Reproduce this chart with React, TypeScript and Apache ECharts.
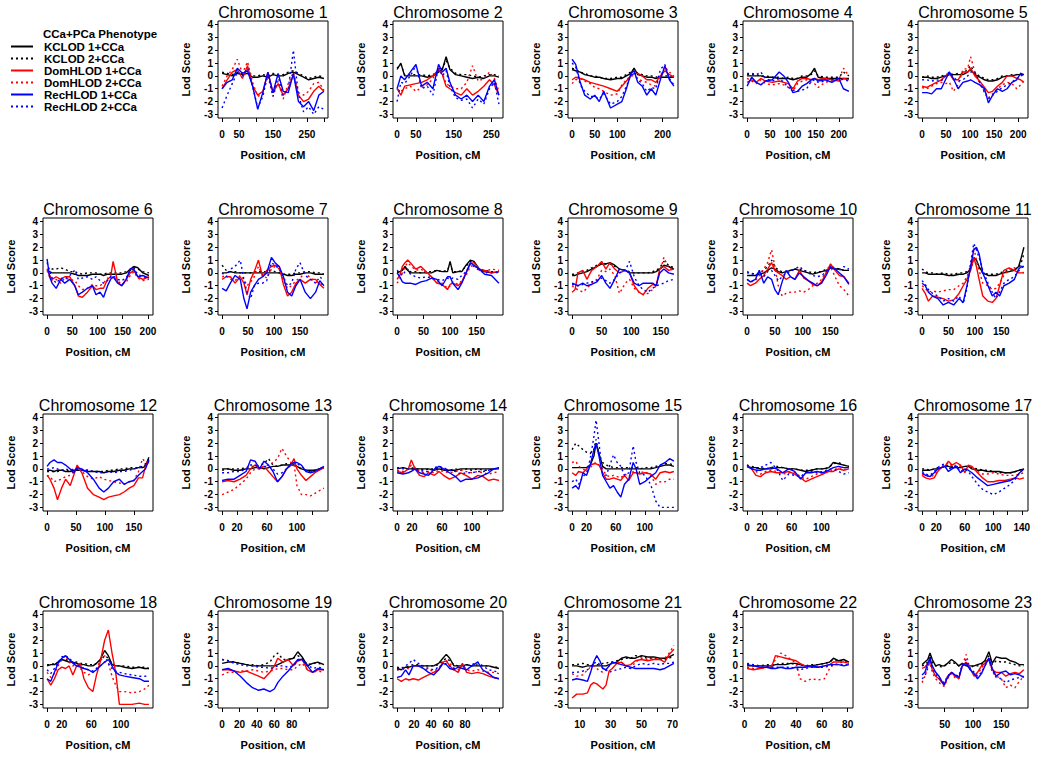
import React, { useEffect, useRef } from "react";
import * as echarts from "echarts";

const FONT = '"Liberation Sans", Arial, Helvetica, sans-serif';

const seriesNames = ["KCLOD 1+CCa", "KCLOD 2+CCa", "DomHLOD 1+CCa", "DomHLOD 2+CCa", "RecHLOD 1+CCa", "RecHLOD 2+CCa"];
const seriesKeys = ["kc1", "kc2", "dom1", "dom2", "rec1", "rec2"];
const seriesColors = ["#000000", "#000000", "#ff0000", "#ff0000", "#0000ff", "#0000ff"];
const seriesDotted = [false, true, false, true, false, true];
const yTicks = [-3, -2, -1, 0, 1, 2, 3, 4];
const legendTitle = "CCa+PCa Phenotype";
const xAxisName = "Position, cM";
const yAxisName = "Lod Score";

const chr1 = {
  name: "Chromosome 1",
  ticks: [0, 50, 100, 150, 200, 250, 300], labels: [0, 50, 150, 250],
  pos: [0, 15, 30, 45, 60, 75, 90, 105, 120, 135, 150, 165, 180, 195, 210, 225, 240, 255, 270, 285, 300],
  kc1: [0.2, 0.1, 0.0, 0.2, 0.1, 0.2, -0.1, -0.1, 0.0, -0.1, 0.1, 0.0, 0.0, 0.2, 0.3, 0.1, -0.1, -0.3, -0.2, -0.1, -0.2],
  kc2: [0.3, 0.2, 0.1, 0.3, 0.2, 0.4, 0.0, 0.0, 0.1, 0.0, 0.2, 0.1, 0.1, 0.3, 0.4, 0.2, 0.0, -0.2, -0.1, 0.0, -0.1],
  dom1: [-1.0, -0.3, 0.3, 0.5, -0.2, 0.8, -0.8, -1.5, -1.2, 0.3, -1.3, -0.6, -1.5, -1.0, 0.1, -1.5, -2.0, -1.8, -1.2, -0.8, -1.2],
  dom2: [-0.8, 0.0, 0.5, 1.3, 0.2, 1.1, -0.5, -1.6, -1.4, 0.0, -1.6, -0.4, -1.8, -0.6, 0.3, -1.3, -1.5, -1.2, -0.6, -0.5, -1.1],
  rec1: [-1.0, -0.5, -0.3, 0.6, 0.2, 0.4, -0.8, -2.6, -1.3, 0.3, -1.3, 0.2, -1.2, -1.3, 0.2, -2.0, -2.4, -2.0, -2.7, -1.5, -1.2],
  rec2: [-2.5, -1.5, -0.6, 0.3, 0.0, 0.6, -0.8, -2.5, -1.6, 0.2, -1.6, 0.0, -1.5, -1.0, 2.0, -1.5, -2.8, -2.4, -3.0, -2.4, -2.6],
};
const chr2 = {
  name: "Chromosome 2",
  ticks: [0, 50, 100, 150, 200, 250], labels: [0, 50, 150, 250],
  pos: [0, 10, 20, 35, 50, 65, 80, 95, 110, 120, 130, 140, 155, 170, 185, 200, 215, 230, 245, 258, 270],
  kc1: [0.5, 1.0, 0.0, 0.0, 0.0, 0.0, -0.1, 0.0, 0.3, 0.5, 1.5, 0.5, 0.1, 0.0, -0.1, -0.2, -0.1, -0.2, 0.0, 0.0, -0.1],
  kc2: [0.6, 0.9, 0.1, 0.1, 0.1, 0.1, 0.0, 0.1, 0.4, 0.6, 1.2, 0.6, 0.2, 0.1, 0.1, 0.0, -0.1, 0.0, 0.1, 0.1, 0.0],
  dom1: [-1.0, -1.5, -0.8, -0.7, -0.6, -0.5, -0.3, 0.0, 0.5, 0.1, -0.8, -1.0, -1.3, -1.5, -1.0, -1.5, -1.2, -0.8, -0.3, -0.7, -1.5],
  dom2: [-1.0, -1.2, -1.0, -0.8, -1.2, -0.9, -0.7, -0.2, 0.6, 0.2, -0.6, -0.8, -1.0, -1.0, -0.5, 0.8, -0.4, -0.2, 0.3, -0.2, -1.2],
  rec1: [-1.0, 0.0, -0.3, 0.3, 0.9, -0.8, -0.5, -1.0, 0.9, 0.3, 0.6, -0.5, -1.5, -1.8, -1.5, -2.0, -1.5, -2.0, -0.8, -0.3, -1.5],
  rec2: [-2.0, -0.5, -0.6, 0.0, 0.8, -1.0, -0.8, -1.5, 0.7, 0.0, 0.4, -0.8, -1.7, -1.9, -1.8, -2.5, -1.8, -2.2, -1.0, -0.5, -2.2],
};
const chr3 = {
  name: "Chromosome 3",
  ticks: [0, 50, 100, 150, 200], labels: [0, 50, 100, 200],
  pos: [0, 8, 18, 28, 40, 50, 60, 70, 85, 100, 110, 120, 130, 137, 145, 155, 165, 175, 185, 195, 205, 215, 225],
  kc1: [0.5, 0.4, 0.3, 0.1, 0.0, -0.1, -0.1, -0.2, -0.3, -0.2, -0.2, 0.0, 0.2, 0.6, 0.1, 0.0, -0.1, -0.1, -0.2, -0.1, -0.1, -0.1, -0.1],
  kc2: [0.6, 0.5, 0.3, 0.2, 0.0, 0.0, -0.1, -0.2, -0.2, -0.1, -0.1, 0.1, 0.3, 0.5, 0.2, 0.1, 0.0, 0.0, -0.1, 0.0, 0.0, 0.0, 0.0],
  dom1: [-0.3, -0.1, -0.2, -0.3, -0.5, -0.6, -0.7, -0.8, -1.0, -1.2, -0.8, -0.4, 0.0, 0.2, 0.2, 0.0, -0.3, -0.3, -0.5, 0.0, 0.4, 0.1, -0.1],
  dom2: [-0.6, -0.3, -0.2, -0.4, -0.6, -0.9, -1.0, -1.2, -1.5, -1.4, -0.7, -0.3, 0.0, 0.0, -0.2, -0.4, -0.5, -0.7, -0.8, 0.0, 0.7, 0.3, 0.0],
  rec1: [1.3, 0.9, -0.5, -1.5, -1.8, -1.5, -2.0, -1.2, -2.5, -2.2, -2.0, -1.0, 0.2, 0.4, -0.5, -0.8, -1.5, -1.0, -1.5, -0.3, 0.8, -0.3, -0.8],
  rec2: [1.0, 0.7, -0.7, -1.2, -1.6, -1.6, -1.8, -1.4, -2.2, -2.0, -1.6, -0.8, 0.0, 0.3, -0.3, -0.6, -1.2, -0.9, -1.0, 0.5, 0.9, -0.2, -0.7],
};
const chr4 = {
  name: "Chromosome 4",
  ticks: [0, 50, 100, 150, 200], labels: [0, 50, 100, 150, 200],
  pos: [0, 10, 20, 30, 40, 55, 70, 80, 90, 100, 110, 120, 130, 140, 147, 155, 170, 185, 200, 210, 222],
  kc1: [0.0, 0.0, 0.0, 0.0, -0.1, -0.1, -0.2, -0.2, -0.2, -0.3, -0.2, -0.1, -0.1, 0.2, 0.6, -0.1, -0.2, -0.2, -0.2, -0.2, -0.2],
  kc2: [0.1, 0.1, 0.1, 0.0, 0.0, -0.1, -0.1, -0.2, -0.1, -0.2, -0.2, 0.0, 0.0, 0.1, 0.4, 0.0, -0.1, -0.1, -0.1, 0.3, 0.0],
  dom1: [-0.5, -0.3, -0.5, -0.2, -0.4, -0.5, -0.4, -0.5, -0.6, -1.0, -0.4, -0.2, -0.2, -0.3, -0.2, -0.3, -0.2, -0.3, -0.4, -0.2, -0.3],
  dom2: [-0.2, -0.4, -0.6, -0.3, -0.6, -0.7, -0.6, -0.7, -0.9, -1.2, -0.6, -0.4, -0.3, -0.5, -0.6, -0.9, -0.5, -0.4, -0.3, 0.6, 0.0],
  rec1: [-0.8, -0.1, -0.5, -0.7, -0.4, -0.3, 0.3, 0.0, -0.5, -1.3, -1.2, -0.8, -0.6, -0.3, -0.2, -0.4, -0.3, -0.5, -0.2, -1.0, -1.2],
  rec2: [0.2, 0.2, 0.1, 0.3, -0.2, -0.4, -0.2, -0.5, -0.9, -1.1, -1.2, -1.1, -1.0, -0.4, -0.3, -0.5, -0.4, -0.3, -0.2, -0.3, -0.4],
};
const chr5 = {
  name: "Chromosome 5",
  ticks: [0, 50, 100, 150, 200], labels: [0, 50, 100, 150, 200],
  pos: [0, 10, 20, 30, 40, 50, 57, 65, 75, 85, 95, 101, 110, 120, 130, 138, 147, 157, 167, 177, 187, 197, 205, 212],
  kc1: [-0.1, -0.1, -0.2, -0.2, -0.1, 0.0, 0.1, 0.1, 0.1, 0.1, 0.3, 0.5, 0.1, -0.1, -0.3, -0.4, -0.4, -0.3, -0.1, 0.0, 0.0, 0.1, 0.1, 0.1],
  kc2: [-0.1, 0.0, -0.1, -0.1, 0.0, 0.1, 0.2, 0.1, 0.2, 0.2, 0.5, 0.8, 0.2, 0.0, -0.2, -0.3, -0.3, -0.2, 0.0, 0.0, 0.1, 0.1, 0.2, 0.1],
  dom1: [-0.8, -0.9, -0.7, -0.5, -0.3, 0.0, 0.2, -0.3, -0.3, 0.3, 0.3, 0.6, 0.0, -0.4, -0.9, -1.3, -1.2, -0.8, -0.5, 0.0, 0.0, -0.2, -0.3, -0.5],
  dom2: [-0.9, -1.0, -0.8, -0.6, -0.5, -0.6, -0.5, -1.2, -0.7, 0.5, 0.6, 1.5, 0.3, -0.6, -1.2, -1.7, -1.4, -1.0, -0.7, -0.5, -0.6, -1.0, -0.7, -0.3],
  rec1: [-1.3, -1.3, -1.4, -1.0, -1.0, -0.2, 0.3, -0.2, -1.0, -0.5, -0.4, -0.3, -0.5, -0.7, -1.0, -2.1, -1.5, -1.0, -1.2, -1.0, -0.5, -0.3, 0.2, 0.1],
  rec2: [-0.3, -0.3, -0.4, -0.3, -0.4, 0.1, 0.3, -0.1, -0.4, -0.3, 0.0, 0.3, 0.3, -0.5, -1.3, -1.8, -1.5, -1.2, -0.9, -0.7, -0.5, -0.2, 0.0, 0.1],
};
const chr6 = {
  name: "Chromosome 6",
  ticks: [0, 50, 100, 150, 200], labels: [0, 50, 100, 150, 200],
  pos: [0, 5, 10, 18, 27, 35, 45, 55, 62, 70, 80, 90, 97, 105, 112, 120, 126, 131, 140, 148, 157, 165, 172, 180, 190, 202],
  kc1: [0.1, 0.1, 0.0, 0.0, 0.0, 0.0, 0.0, -0.1, -0.2, -0.2, -0.2, -0.1, -0.1, -0.1, -0.2, -0.1, -0.1, -0.1, -0.1, -0.1, 0.0, 0.3, 0.5, 0.4, 0.0, -0.2],
  kc2: [0.3, 0.2, 0.3, 0.3, 0.4, 0.3, 0.1, 0.1, 0.0, -0.1, 0.0, 0.0, 0.0, -0.1, -0.1, 0.0, 0.0, 0.0, 0.0, 0.0, 0.1, 0.2, 0.4, 0.3, 0.1, 0.0],
  dom1: [0.3, -0.2, -0.5, -0.3, -0.5, -0.3, -0.3, -1.0, -1.8, -1.9, -1.5, -1.0, -1.3, -1.2, -1.2, -0.5, -0.3, 0.9, -0.7, -1.0, -0.5, 0.0, 0.2, -0.3, -0.5, -0.3],
  dom2: [0.2, -0.3, -0.6, -0.5, -0.8, -0.4, -0.5, -0.6, -1.0, -1.3, -1.2, -0.9, -1.0, -1.0, -0.8, -0.4, -0.5, -0.3, -0.6, -0.9, -0.7, -0.2, 0.1, -0.4, -0.6, -0.5],
  rec1: [1.1, -0.3, -0.8, -1.2, -0.5, -0.8, -0.5, -1.0, -1.7, -1.5, -1.2, -1.0, -1.7, -1.5, -1.9, -1.0, -0.5, -0.3, -0.8, -1.0, -0.5, 0.3, 0.3, -0.3, -0.2, -0.4],
  rec2: [0.8, 0.2, -0.4, -0.8, -0.4, -0.5, -0.2, 0.2, -0.5, -0.4, -0.3, -0.5, -0.3, -0.6, -0.8, -0.6, -0.3, -0.2, -0.5, -0.6, -0.4, 0.2, 0.3, -0.1, -0.3, -0.4],
};
const chr7 = {
  name: "Chromosome 7",
  ticks: [0, 50, 100, 150], labels: [0, 50, 100, 150],
  pos: [0, 8, 16, 25, 35, 42, 48, 55, 62, 70, 78, 86, 95, 102, 110, 118, 126, 134, 142, 150, 160, 170, 180, 188, 196],
  kc1: [0.0, 0.0, 0.1, 0.0, 0.0, 0.0, 0.0, 0.0, 0.0, 0.0, 0.0, 0.0, 0.0, 0.0, 0.0, -0.1, -0.2, -0.2, -0.1, -0.1, 0.0, 0.0, -0.1, -0.1, -0.1],
  kc2: [0.6, 0.2, 0.1, 0.1, 0.0, 0.0, 0.0, 0.0, 0.1, 0.1, 0.1, 0.1, 0.2, 0.1, 0.0, -0.1, -0.1, -0.1, 0.0, 0.0, 0.1, 0.1, 0.0, 0.0, -0.1],
  dom1: [-0.5, -0.3, -0.3, -0.8, -0.3, -0.8, -1.7, -0.5, 0.1, 1.0, -0.3, 0.2, 0.5, 0.6, 0.5, -0.9, -1.8, -1.5, -0.8, -0.5, -0.8, -0.5, -0.5, -0.9, -1.2],
  dom2: [-0.3, -0.2, -0.5, -0.6, -0.2, -0.5, -1.0, -0.7, -0.3, 0.5, -0.2, -0.4, 0.3, 0.5, 0.3, -0.6, -1.2, -1.0, -0.6, -0.4, 0.0, -0.4, -0.7, -0.8, -1.0],
  rec1: [-1.2, -1.4, -0.8, -0.2, -0.5, -2.0, -2.8, -1.5, -1.0, -0.5, -0.3, 0.0, 1.2, 0.8, 0.5, -0.3, -1.5, -1.8, -1.0, -0.5, -1.5, -2.0, -1.5, -0.6, -1.0],
  rec2: [0.0, -0.3, 0.3, 0.5, 1.0, -0.5, -1.5, -2.0, -1.0, -0.8, -0.8, -0.6, 0.8, 0.6, 0.3, -0.3, -1.0, -0.8, 0.3, 0.8, -0.2, -0.5, -0.8, -0.3, -0.6],
};
const chr8 = {
  name: "Chromosome 8",
  ticks: [0, 50, 100, 150], labels: [0, 50, 100, 150],
  pos: [0, 5, 10, 15, 20, 25, 35, 45, 55, 65, 75, 85, 95, 100, 105, 115, 122, 130, 138, 145, 155, 165, 178, 192],
  kc1: [0.0, 0.1, 0.2, 0.5, 0.2, 0.0, 0.0, 0.0, 0.0, 0.0, 0.2, 0.1, 0.1, 0.9, 0.0, 0.1, 0.1, 0.6, 1.0, 0.9, 0.3, 0.1, 0.0, 0.1],
  kc2: [0.1, 0.1, 0.3, 0.4, 0.2, 0.1, 0.1, 0.0, 0.1, 0.1, 0.2, 0.1, 0.2, 0.7, 0.1, 0.1, 0.2, 0.5, 0.9, 0.8, 0.3, 0.2, 0.1, 0.1],
  dom1: [-0.5, -0.2, 0.5, 0.8, 1.0, 0.8, 0.3, 0.5, 0.1, -0.3, -0.8, -0.9, -1.3, -0.9, -0.8, -1.0, -0.7, 0.0, 0.7, 0.8, 0.3, 0.2, 0.0, 0.1],
  dom2: [-0.8, -0.5, 0.0, 0.5, 0.8, 0.6, 0.2, 0.3, 0.0, -0.4, -0.7, -0.8, -1.2, -1.0, -0.7, -0.9, -0.6, -0.2, 0.5, 0.6, 0.2, 0.1, 0.3, 0.2],
  rec1: [0.0, -0.3, -0.7, -0.8, -0.8, -0.8, -0.9, -0.7, -0.6, -0.4, -0.5, -1.0, -0.3, -0.3, -0.8, -1.3, -0.8, 0.0, 0.8, 0.6, 0.3, -0.1, -0.2, -0.8],
  rec2: [0.2, 0.0, -0.2, 0.1, 0.3, -0.1, -0.3, -0.4, -0.3, -0.4, -0.5, -0.6, -0.4, -0.5, -0.4, -0.5, -0.2, 0.1, 0.7, 0.5, 0.2, 0.0, 0.1, 0.0],
};
const chr9 = {
  name: "Chromosome 9",
  ticks: [0, 50, 100, 150], labels: [0, 50, 100, 150],
  pos: [0, 5, 10, 18, 25, 33, 42, 50, 57, 64, 72, 80, 90, 97, 105, 113, 120, 128, 136, 142, 148, 155, 163, 172],
  kc1: [-0.2, -0.2, -0.1, 0.0, 0.1, 0.3, 0.5, 0.7, 0.7, 0.8, 0.6, 0.3, 0.2, 0.0, 0.0, 0.0, 0.0, 0.0, 0.0, 0.1, 0.3, 0.6, 0.5, 0.3],
  kc2: [-0.1, -0.1, 0.0, 0.1, 0.2, 0.4, 0.6, 0.8, 0.7, 0.7, 0.5, 0.3, 0.2, 0.1, 0.0, 0.0, 0.0, 0.0, 0.1, 0.2, 0.4, 0.9, 0.6, 0.4],
  dom1: [-1.5, -1.3, 0.0, 0.2, -0.5, 0.2, 0.5, 0.9, 0.3, 0.8, 0.3, 0.0, 0.2, 0.0, -1.0, -1.5, -1.7, -1.2, -0.9, -1.0, 0.3, 0.5, 0.2, 0.3],
  dom2: [-1.0, -1.2, -1.3, -1.5, -1.2, -0.8, -0.5, 0.2, 0.1, 0.3, -0.2, -1.6, -0.8, -0.5, -1.2, -1.5, -1.7, -1.6, -1.3, -1.0, 0.0, 1.2, 0.4, 0.2],
  rec1: [-0.8, -0.9, -1.0, -0.8, -1.0, -0.9, -0.7, -0.2, -0.8, -1.2, -0.5, 0.3, 0.2, 0.0, -0.8, -1.0, -0.8, -0.8, -0.8, -1.0, 0.0, 0.3, 0.0, -0.1],
  rec2: [-0.9, -0.9, -1.0, -0.9, -0.8, -0.7, -0.6, -0.4, -0.6, -0.8, -0.5, 0.0, 0.2, 0.9, -0.3, -1.0, -1.3, -1.5, -1.2, -1.0, -0.9, -0.8, -0.6, -0.5],
};
const chr10 = {
  name: "Chromosome 10",
  ticks: [0, 50, 100, 150], labels: [0, 50, 100, 150],
  pos: [0, 6, 15, 22, 30, 37, 44, 50, 56, 63, 70, 78, 86, 94, 102, 110, 118, 126, 134, 142, 150, 158, 166, 174, 183],
  kc1: [-0.2, -0.2, -0.2, -0.1, 0.0, 0.2, 0.4, 0.3, 0.1, 0.0, 0.1, 0.2, 0.3, 0.2, 0.1, 0.0, -0.1, 0.0, 0.1, 0.2, 0.4, 0.3, 0.3, 0.2, 0.2],
  kc2: [0.0, 0.0, -0.1, 0.0, 0.2, 0.5, 1.0, 0.5, 0.2, 0.1, 0.1, 0.2, 0.3, 0.3, 0.2, 0.1, 0.0, 0.1, 0.1, 0.3, 0.5, 0.4, 0.3, 0.2, 0.2],
  dom1: [-0.8, -1.0, -0.8, -0.5, -0.2, 0.3, 0.8, 0.2, 0.0, -0.2, -0.5, -0.3, -0.5, 0.2, -0.4, -0.6, -0.9, -1.0, -0.7, 0.0, 0.7, 0.2, -0.2, -0.3, -0.8],
  dom2: [-0.5, -0.7, -0.6, -0.2, 0.3, 0.8, 1.8, 0.5, -1.0, -1.8, -1.6, -1.5, -1.5, -1.4, -1.5, -1.3, -1.0, -0.8, -0.5, 0.2, 0.5, -0.3, -1.0, -1.3, -1.8],
  rec1: [-0.5, -0.7, -0.5, 0.2, -0.8, -0.3, -0.5, -1.3, -1.7, -0.7, 0.2, -0.3, -0.5, 0.0, -0.3, -0.6, -0.8, -1.0, -0.8, -0.2, 0.5, 0.3, 0.0, -0.3, -0.9],
  rec2: [0.1, 0.0, -0.2, 0.0, -0.3, 0.1, 0.2, -0.2, -0.6, -0.3, 0.0, 0.1, 0.3, 0.5, 0.2, 0.0, -0.2, -0.3, -0.2, 0.1, 0.4, 0.3, 0.2, 0.5, 0.3],
};
const chr11 = {
  name: "Chromosome 11",
  ticks: [0, 50, 100, 150], labels: [0, 50, 100, 150],
  pos: [0, 6, 12, 20, 30, 40, 50, 60, 70, 78, 85, 92, 98, 103, 108, 115, 125, 133, 140, 147, 155, 165, 175, 183, 188, 193],
  kc1: [0.0, 0.0, -0.1, -0.1, -0.1, -0.1, -0.2, -0.2, -0.1, -0.1, 0.0, 0.3, 1.2, 1.0, 0.5, 0.0, -0.2, -0.2, -0.2, -0.1, 0.0, 0.1, 0.2, 0.5, 1.2, 2.0],
  kc2: [0.3, 0.1, 0.0, 0.0, -0.1, 0.0, -0.1, -0.1, 0.0, 0.0, 0.1, 0.4, 1.0, 0.9, 0.4, 0.0, -0.1, -0.1, -0.1, 0.0, 0.1, 0.2, 0.3, 0.4, 0.8, 1.5],
  dom1: [-1.2, -1.6, -2.2, -1.8, -1.9, -2.0, -2.2, -2.1, -1.6, -1.0, -0.5, 0.2, 1.2, 0.5, -0.5, -1.8, -2.2, -2.3, -2.0, -1.0, 0.2, 0.4, 0.2, 0.0, 0.0, 0.0],
  dom2: [-1.0, -1.2, -1.5, -1.4, -1.5, -1.4, -1.3, -1.3, -1.0, -0.8, -0.3, 0.5, 2.0, 1.0, 0.2, -0.8, -1.0, -1.3, -1.2, -0.8, -0.2, 0.3, 0.4, 0.2, 0.1, 0.0],
  rec1: [-0.8, -1.0, -1.5, -1.8, -2.0, -2.5, -2.3, -2.5, -2.0, -2.3, -1.0, 0.5, 1.8, 2.0, 1.5, 0.0, -1.0, -1.8, -1.5, -1.8, -1.0, -0.8, -0.5, 0.3, 0.5, 0.5],
  rec2: [-0.6, -0.9, -1.3, -1.6, -1.8, -2.2, -2.0, -2.2, -1.8, -2.4, -1.2, 0.8, 2.3, 1.8, 1.2, 0.2, -0.8, -1.5, -2.0, -1.5, -0.8, -0.5, -0.3, 0.2, 0.4, 0.5],
};
const chr12 = {
  name: "Chromosome 12",
  ticks: [0, 50, 100, 150], labels: [0, 50, 100, 150],
  pos: [0, 5, 12, 18, 25, 32, 40, 46, 52, 60, 70, 80, 90, 98, 106, 115, 125, 133, 142, 150, 158, 165, 170, 176],
  kc1: [-0.1, -0.1, -0.2, -0.1, -0.1, -0.2, -0.2, -0.1, -0.1, -0.1, -0.2, -0.2, -0.2, -0.3, -0.2, -0.2, -0.1, -0.1, 0.0, 0.0, 0.1, 0.1, 0.2, 0.9],
  kc2: [-0.2, -0.2, -0.2, -0.2, -0.1, -0.1, -0.2, -0.1, 0.0, -0.1, -0.1, -0.2, -0.2, -0.2, -0.1, -0.1, 0.0, 0.0, 0.1, 0.1, 0.1, 0.2, 0.4, 0.8],
  dom1: [-0.5, -0.8, -1.5, -2.4, -1.5, -0.8, -1.3, -0.5, 0.3, -0.3, -1.5, -2.0, -2.2, -2.4, -2.2, -2.1, -2.0, -1.8, -1.5, -1.3, -0.7, -0.7, 0.2, 0.6],
  dom2: [-0.5, -0.6, -1.0, -0.9, -0.8, -0.6, -0.5, -0.2, 0.1, -0.2, -0.6, -0.8, -0.6, -0.8, -0.9, -1.0, -1.1, -1.2, -1.0, -0.9, -0.2, 0.8, 0.5, 0.6],
  rec1: [0.2, 0.5, 0.7, 0.5, 0.5, 0.3, 0.0, -0.3, 0.1, 0.0, -0.3, -0.8, -1.5, -1.8, -1.5, -1.0, -0.8, -1.2, -1.0, -0.9, -0.5, -0.2, 0.0, 0.7],
  rec2: [0.0, 0.0, 0.1, 0.0, -0.1, 0.0, -0.1, 0.0, 0.0, -0.1, -0.1, -0.2, -0.3, -0.3, -0.2, -0.3, -0.2, -0.2, -0.1, 0.0, 0.1, 0.2, 0.3, 0.5],
};
const chr13 = {
  name: "Chromosome 13",
  ticks: [0, 20, 40, 60, 80, 100, 120], labels: [0, 20, 60, 100],
  pos: [0, 8, 16, 24, 32, 38, 44, 50, 56, 62, 68, 74, 80, 86, 92, 96, 100, 106, 112, 118, 124, 130, 136],
  kc1: [0.0, 0.0, -0.1, -0.1, 0.0, 0.0, 0.1, 0.1, 0.0, 0.1, 0.2, 0.2, 0.3, 0.3, 0.3, 0.3, 0.2, 0.0, -0.1, -0.1, -0.1, 0.0, 0.1],
  kc2: [-0.1, 0.0, 0.0, 0.0, 0.1, 0.2, 0.2, 0.3, 0.4, 0.8, 0.3, 0.2, 0.3, 0.4, 0.4, 0.3, 0.2, 0.0, -0.1, -0.2, -0.1, 0.0, 0.1],
  dom1: [-1.0, -0.9, -1.0, -0.8, -0.5, 0.0, 0.3, 0.0, 0.2, -0.2, -0.6, -1.0, -0.6, 0.0, 0.3, 0.8, 0.0, -0.5, -0.9, -0.6, -0.3, -0.1, 0.1],
  dom2: [-2.0, -1.8, -1.6, -1.2, -0.8, -0.3, 0.0, 0.0, 0.2, 0.3, 0.5, 0.8, 1.6, 1.0, 0.5, 0.4, -1.3, -2.0, -2.0, -2.1, -1.9, -1.7, -1.5],
  rec1: [-0.9, -0.8, -0.8, -0.5, -0.2, 0.7, 0.6, 0.0, 0.6, 0.3, -0.2, -1.0, -0.6, 0.0, 0.4, 0.5, 0.5, 0.3, -0.2, -0.3, -0.2, 0.0, 0.2],
  rec2: [-0.3, -0.3, -0.2, -0.2, 0.0, 0.3, 0.3, 0.1, 0.2, 0.2, 0.0, -0.4, -0.3, 0.0, 0.3, 0.4, 0.4, 0.2, -0.1, -0.2, -0.1, 0.0, 0.1],
};
const chr14 = {
  name: "Chromosome 14",
  ticks: [0, 20, 40, 60, 80, 100, 120], labels: [0, 20, 60, 100],
  pos: [0, 8, 15, 19, 24, 30, 36, 42, 50, 56, 62, 70, 78, 85, 92, 100, 108, 115, 122, 129, 136],
  kc1: [0.0, 0.1, 0.0, 0.0, 0.0, 0.0, 0.0, 0.0, -0.1, 0.0, -0.1, -0.1, -0.1, 0.0, 0.0, 0.0, 0.0, 0.0, 0.0, 0.0, 0.0],
  kc2: [0.1, 0.1, 0.0, 0.1, 0.0, 0.0, -0.1, 0.0, 0.0, 0.1, 0.0, -0.1, 0.0, -0.1, 0.0, -0.1, 0.0, -0.1, -0.1, 0.0, 0.0],
  dom1: [-0.2, -0.3, 0.0, 0.7, 0.0, -0.5, -0.6, -0.3, -0.5, -0.2, -0.5, -0.8, -0.6, -0.3, -0.5, -0.8, -0.5, -0.6, -0.9, -0.8, -0.9],
  dom2: [-0.1, -0.2, 0.0, 0.3, 0.1, -0.2, -0.3, -0.2, -0.3, -0.1, -0.2, -0.3, -0.2, -0.1, -0.2, -0.3, -0.2, -0.3, -0.4, -0.3, -0.2],
  rec1: [-0.3, -0.4, -0.3, -0.2, 0.0, -0.3, -0.4, -0.5, 0.0, 0.2, 0.0, -0.3, -0.6, -1.0, -0.8, -0.8, -0.7, -0.5, -0.3, 0.0, 0.1],
  rec2: [0.1, 0.0, 0.0, -0.1, 0.0, -0.1, -0.2, -0.2, 0.1, 0.2, 0.1, -0.1, -0.2, -0.4, -0.3, -0.3, -0.2, -0.2, -0.1, 0.0, 0.1],
};
const chr15 = {
  name: "Chromosome 15",
  ticks: [0, 20, 40, 60, 80, 100, 120], labels: [0, 20, 60, 100],
  pos: [0, 5, 9, 15, 20, 25, 30, 33, 37, 42, 47, 52, 57, 62, 67, 72, 78, 84, 88, 93, 100, 108, 115, 121, 128, 134, 140],
  kc1: [0.1, 0.1, 0.1, 0.1, 0.1, 0.3, 1.0, 2.0, 1.2, 0.2, 0.0, 0.0, 0.0, 0.0, 0.0, 0.0, 0.0, 0.0, 0.0, 0.0, 0.0, 0.0, 0.1, 0.2, 0.3, 0.3, 0.2],
  kc2: [1.5, 2.0, 1.8, 1.5, 1.3, 1.2, 1.5, 2.3, 1.0, 0.5, 0.3, 0.2, 0.1, 0.1, 0.1, 0.1, 0.1, 0.1, 0.1, 0.0, 0.1, 0.1, 0.2, 0.3, 0.4, 0.4, 0.3],
  dom1: [-0.3, -0.5, -0.2, -0.3, 0.0, 0.3, 0.4, 0.4, 0.3, -0.3, -0.8, -0.8, -0.7, -0.8, -0.9, -0.5, -0.9, -0.3, -0.3, -0.4, -0.3, -0.4, -0.8, -0.3, -0.2, -0.3, -0.2],
  dom2: [0.5, 0.6, 0.2, 0.0, -0.2, 0.1, 0.4, 0.5, 0.3, 0.0, -0.5, -0.6, -0.5, -0.6, -0.7, -0.4, -0.6, -0.2, -0.3, -0.3, -0.2, -0.5, -1.2, -1.0, -1.0, -0.8, -0.8],
  rec1: [-1.5, -1.3, -1.6, -0.3, -0.5, 0.3, 1.5, 2.0, 1.0, -0.5, -1.0, -1.5, -1.3, -1.8, -2.2, -1.2, -0.8, 0.5, 0.0, -1.2, -1.0, -0.6, -0.3, 0.3, 0.5, 0.8, 0.6],
  rec2: [-1.0, -0.8, -1.2, -0.6, -0.3, 0.8, 2.5, 3.8, 2.0, -0.4, -0.5, 0.3, 1.1, 0.5, 0.2, -0.5, -0.3, 1.8, 0.5, -0.3, -0.5, -1.2, -2.5, -3.0, -3.0, -3.0, -3.0],
};
const chr16 = {
  name: "Chromosome 16",
  ticks: [0, 20, 40, 60, 80, 100, 120], labels: [0, 20, 60, 100],
  pos: [0, 6, 12, 18, 25, 32, 40, 48, 56, 64, 72, 79, 86, 94, 102, 110, 116, 123, 130, 137],
  kc1: [0.2, 0.1, 0.1, 0.0, 0.0, 0.0, 0.1, 0.1, 0.0, 0.0, -0.1, -0.2, -0.1, 0.0, 0.0, 0.1, 0.5, 0.4, 0.3, 0.2],
  kc2: [0.3, 0.2, 0.1, 0.1, 0.0, 0.1, 0.2, 0.1, 0.0, 0.0, -0.1, -0.1, -0.1, 0.0, 0.0, 0.1, 0.4, 0.5, 0.3, 0.2],
  dom1: [0.3, 0.0, -0.5, -0.6, -0.3, -0.2, -0.3, -0.3, -0.2, -0.4, -0.7, -1.0, -0.8, -0.6, -0.4, -0.2, -0.2, 0.0, -0.1, 0.0],
  dom2: [0.2, 0.0, -0.2, -0.4, -0.2, -0.1, -0.2, -0.4, -0.3, -0.3, -0.6, -0.8, -0.6, -0.4, -0.3, -0.2, -0.1, 0.1, 0.0, -0.1],
  rec1: [0.2, 0.0, -0.1, -0.1, 0.0, 0.1, 0.0, -0.3, 0.0, -0.2, -0.8, -0.3, -0.3, -0.2, -0.3, -0.1, 0.1, 0.2, 0.1, 0.1],
  rec2: [0.3, 0.1, 0.0, 0.1, 0.3, 0.5, 0.0, -0.9, -0.4, -0.5, -0.6, -0.3, -0.2, -0.3, -0.2, 0.0, 0.0, -0.2, -0.4, -0.3],
};
const chr17 = {
  name: "Chromosome 17",
  ticks: [0, 20, 40, 60, 80, 100, 120, 140], labels: [0, 20, 60, 100, 140],
  pos: [0, 5, 11, 17, 22, 27, 32, 37, 42, 48, 54, 60, 65, 70, 78, 85, 92, 100, 108, 116, 124, 131, 137, 143],
  kc1: [-0.1, -0.1, -0.1, 0.0, 0.0, 0.1, 0.2, 0.2, 0.1, 0.1, 0.1, 0.2, 0.2, 0.0, -0.1, -0.1, -0.2, -0.2, -0.2, -0.3, -0.3, -0.2, -0.1, 0.0],
  kc2: [0.0, 0.0, -0.1, 0.0, 0.1, 0.1, 0.2, 0.3, 0.2, 0.2, 0.1, 0.2, 0.2, 0.1, 0.0, -0.1, -0.1, -0.2, -0.3, -0.3, -0.3, -0.2, -0.1, 0.0],
  dom1: [-0.5, -0.7, -0.8, -0.7, -0.2, 0.1, 0.2, 0.6, 0.3, 0.5, 0.3, -0.3, 0.3, 0.2, -0.3, -0.7, -1.0, -1.0, -0.9, -0.9, -0.8, -0.7, -0.8, -0.7],
  dom2: [-0.4, -0.5, -0.6, -0.5, -0.1, 0.2, 0.3, 0.5, 0.2, 0.3, 0.2, -0.2, 0.2, 0.1, -0.2, -0.4, -0.4, -0.3, -0.4, -0.5, -0.5, -0.5, -0.4, -0.3],
  rec1: [-0.3, -0.5, -0.6, -0.3, 0.0, 0.1, 0.2, -0.2, 0.0, 0.2, -0.3, 0.0, -0.1, -0.3, -0.7, -1.0, -1.3, -1.2, -1.1, -1.0, -0.9, -0.7, -0.3, 0.0],
  rec2: [-0.2, -0.4, -0.5, -0.2, 0.1, 0.3, 0.4, 0.0, 0.1, 0.2, -0.2, 0.0, -0.2, -0.6, -1.2, -1.6, -1.8, -2.0, -1.8, -1.5, -1.2, -0.8, -0.3, 0.0],
};
const chr18 = {
  name: "Chromosome 18",
  ticks: [0, 20, 40, 60, 80, 100, 120], labels: [0, 20, 60, 100],
  pos: [0, 5, 10, 15, 20, 25, 30, 35, 40, 45, 50, 56, 62, 67, 72, 78, 83, 88, 93, 98, 105, 115, 125, 132, 138],
  kc1: [0.0, 0.1, 0.1, 0.3, 0.5, 0.4, 0.3, 0.3, 0.2, 0.1, 0.1, 0.0, 0.0, 0.2, 0.5, 1.2, 0.8, 0.1, 0.0, 0.0, -0.1, -0.2, -0.1, -0.2, -0.2],
  kc2: [0.1, 0.1, 0.2, 0.3, 0.5, 0.5, 0.4, 0.3, 0.3, 0.2, 0.2, 0.1, 0.1, 0.2, 0.4, 0.8, 0.6, 0.2, 0.0, 0.0, 0.0, -0.1, -0.1, -0.1, -0.2],
  dom1: [-1.0, -1.5, -1.0, -0.3, -0.1, -0.2, 0.0, -0.7, 0.0, 0.2, -1.0, -1.7, -2.0, -0.7, 0.3, 2.0, 2.8, 1.0, -0.5, -3.0, -3.0, -3.0, -2.9, -3.0, -3.0],
  dom2: [-0.5, -0.9, -0.6, 0.0, 0.5, 0.8, 0.3, 0.0, 0.1, -0.2, -0.5, -0.7, -0.5, -0.2, 0.4, 0.8, 0.2, -0.8, -1.5, -2.0, -2.0, -2.1, -2.0, -1.8, -1.5],
  rec1: [-1.0, -1.2, -0.5, 0.2, 0.6, 0.8, 0.5, 0.2, 0.0, -0.1, -0.2, -0.3, -0.5, -0.3, 0.0, 0.3, 0.5, 0.0, -0.5, -0.7, -0.8, -0.9, -1.0, -1.2, -1.2],
  rec2: [-0.3, -0.6, -0.2, 0.3, 0.7, 0.8, 0.6, 0.3, 0.1, 0.0, -0.2, -0.3, -0.4, -0.2, 0.0, 0.3, 0.2, -0.2, -0.4, -0.5, -0.6, -0.7, -0.8, -0.8, -0.8],
};
const chr19 = {
  name: "Chromosome 19",
  ticks: [0, 20, 40, 60, 80, 100], labels: [0, 20, 40, 60, 80],
  pos: [0, 7, 14, 21, 28, 35, 42, 48, 55, 60, 64, 70, 76, 82, 87, 92, 98, 104, 110, 117],
  kc1: [0.2, 0.3, 0.3, 0.2, 0.1, 0.0, 0.0, 0.0, 0.0, 0.0, 0.1, 0.3, 0.5, 0.6, 1.1, 0.7, 0.0, 0.2, 0.3, 0.1],
  kc2: [0.5, 0.4, 0.3, 0.2, 0.1, 0.1, 0.0, 0.1, 0.3, 0.8, 1.0, 0.5, 0.5, 0.6, 0.8, 0.6, 0.1, 0.2, 0.2, 0.1],
  dom1: [-0.3, -0.3, -0.4, -0.5, -0.4, -0.6, -0.8, -1.0, -0.5, 0.0, 0.6, 0.3, 0.5, 0.0, 0.4, 0.5, -0.3, -0.5, -0.3, -0.3],
  dom2: [-0.7, -0.5, -0.5, -0.4, -0.4, -0.3, -0.4, -0.5, -0.4, -0.3, -0.2, -0.2, -0.3, -0.3, 0.0, 0.2, -0.3, -0.5, -0.4, -0.5],
  rec1: [-0.3, -0.2, -0.4, -0.8, -1.3, -1.7, -1.9, -1.8, -2.0, -1.8, -1.3, -0.8, -0.4, 0.1, 0.5, 0.5, 0.0, -0.5, -0.2, -0.3],
  rec2: [0.5, 0.4, 0.2, 0.1, 0.0, 0.0, -0.1, -0.1, -0.2, -0.1, 0.0, 0.0, -0.1, 0.0, 0.4, 0.5, 0.1, -0.2, -0.1, -0.2],
};
const chr20 = {
  name: "Chromosome 20",
  ticks: [0, 20, 40, 60, 80, 100, 120], labels: [0, 20, 40, 60, 80],
  pos: [0, 5, 10, 14, 19, 25, 31, 37, 43, 49, 54, 58, 62, 67, 72, 77, 82, 88, 95, 101, 108, 114, 120],
  kc1: [-0.2, -0.3, -0.1, -0.1, 0.0, 0.0, 0.0, 0.0, 0.0, 0.2, 0.6, 0.9, 0.6, 0.0, 0.0, 0.0, 0.1, 0.0, 0.0, 0.0, 0.0, -0.1, -0.2],
  kc2: [-0.1, -0.2, -0.1, 0.0, 0.1, 0.1, 0.0, 0.0, 0.0, 0.1, 0.4, 0.6, 0.4, 0.1, 0.0, 0.1, 0.1, 0.0, 0.1, 0.0, 0.0, -0.1, -0.1],
  dom1: [-1.0, -1.2, -1.0, -1.1, -1.0, -1.1, -0.9, -0.7, -0.5, -0.3, 0.3, 0.4, 0.0, -0.3, -0.5, 0.2, -0.5, -0.6, -0.5, -0.6, -0.8, -0.9, -1.0],
  dom2: [-0.3, -0.3, -0.2, -0.2, 0.0, 0.0, -0.2, -0.3, -0.4, -0.2, 0.3, 0.4, 0.2, -0.2, -0.3, 0.1, -0.3, -0.4, -0.3, -0.4, -0.5, -0.5, -0.6],
  rec1: [-0.9, -0.8, -0.3, -0.7, 0.0, 0.0, -0.2, -0.5, -0.7, -0.3, 0.2, 0.1, -0.2, -0.3, -0.1, -0.2, -0.3, 0.0, 0.3, -0.3, -0.6, -0.9, -1.0],
  rec2: [-0.3, -0.2, 0.0, 0.2, 0.5, 0.2, 0.0, -0.2, -0.3, -0.1, 0.1, 0.2, 0.0, -0.2, -0.1, -0.1, 0.0, 0.1, 0.3, 0.0, -0.3, -0.4, -0.5],
};
const chr21 = {
  name: "Chromosome 21",
  ticks: [10, 20, 30, 40, 50, 60, 70], labels: [10, 30, 50, 70],
  pos: [5, 8, 12, 15, 17, 19, 21, 23, 25, 27, 29, 31, 34, 37, 40, 43, 46, 50, 54, 58, 62, 65, 68, 71],
  kc1: [0.0, 0.0, -0.1, 0.0, 0.0, 0.0, 0.0, 0.0, 0.0, 0.0, 0.1, 0.2, 0.3, 0.6, 0.7, 0.6, 0.6, 0.8, 0.7, 0.7, 0.6, 0.6, 0.7, 0.9],
  kc2: [0.1, 0.1, 0.2, 0.1, 0.1, 0.1, 0.1, 0.1, 0.2, 0.2, 0.3, 0.3, 0.4, 0.5, 0.6, 0.6, 0.8, 0.7, 0.6, 0.6, 0.5, 0.5, 0.6, 0.8],
  dom1: [-2.5, -2.2, -2.2, -2.1, -1.5, -1.3, -1.4, -1.6, -1.8, -1.5, -0.4, -0.2, 0.2, 0.3, 0.0, 0.1, 0.4, 0.5, 0.4, 0.5, 0.5, 0.3, 0.9, 1.3],
  dom2: [-0.6, -0.8, -0.7, -0.3, -0.1, 0.0, -0.2, -0.4, -0.5, -0.3, 0.0, 0.2, 0.3, 0.2, 0.1, -0.2, 0.3, 0.6, 0.5, 0.6, 0.5, 0.6, 1.0, 1.6],
  rec1: [-1.1, -1.0, -1.1, -1.2, -0.5, 0.3, 0.8, 0.4, -0.2, -0.3, 0.0, 0.3, 0.2, 0.1, 0.0, -0.1, -0.2, -0.2, -0.2, -0.2, -0.3, -0.2, 0.0, 0.2],
  rec2: [-0.5, -0.5, -0.4, -0.3, -0.1, 0.2, 0.3, 0.1, -0.2, -0.3, -0.5, -0.4, -0.3, -0.2, -0.1, -0.2, 0.0, 0.2, 0.1, 0.2, 0.1, 0.2, 0.2, 0.3],
};
const chr22 = {
  name: "Chromosome 22",
  ticks: [0, 20, 40, 60, 80], labels: [0, 20, 40, 60, 80],
  pos: [2, 7, 12, 17, 21, 24, 28, 32, 36, 40, 43, 47, 52, 57, 62, 66, 69, 73, 77, 81],
  kc1: [0.0, 0.0, 0.0, 0.0, 0.0, 0.1, 0.1, 0.1, 0.2, 0.2, 0.1, 0.0, 0.0, 0.1, 0.2, 0.3, 0.6, 0.4, 0.5, 0.3],
  kc2: [0.1, 0.0, 0.0, 0.1, 0.1, 0.1, 0.2, 0.2, 0.2, 0.1, 0.1, 0.0, 0.1, 0.1, 0.2, 0.3, 0.5, 0.4, 0.4, 0.3],
  dom1: [-0.2, -0.3, -0.2, -0.1, -0.1, 0.8, 0.7, 0.6, 0.5, 0.4, 0.2, 0.0, -0.1, -0.1, 0.0, 0.1, 0.3, 0.3, 0.3, 0.2],
  dom2: [-0.1, -0.2, -0.2, -0.1, 0.0, 0.5, 1.0, 0.8, 0.5, 0.2, -1.0, -1.2, -1.0, -1.1, -1.0, -0.2, 0.1, 0.2, 0.3, 0.3],
  rec1: [0.1, 0.0, -0.1, -0.1, -0.2, -0.2, -0.1, -0.2, -0.2, -0.1, -0.1, -0.1, 0.0, -0.1, 0.0, 0.1, 0.1, 0.1, 0.0, 0.1],
  rec2: [0.2, 0.1, 0.0, 0.0, -0.1, -0.1, -0.1, -0.1, -0.1, -0.2, -0.3, -0.2, -0.1, -0.1, -0.1, 0.0, 0.1, 0.1, 0.1, 0.1],
};
const chr23 = {
  name: "Chromosome 23",
  ticks: [50, 100, 150], labels: [50, 100, 150],
  pos: [10, 15, 20, 24, 28, 34, 40, 45, 49, 55, 62, 68, 75, 81, 88, 95, 102, 108, 115, 121, 128, 134, 141, 150, 158, 166, 174, 182, 190],
  kc1: [0.1, 0.3, 0.5, 1.0, 0.5, 0.0, 0.1, 0.0, 0.0, 0.2, 0.5, 0.3, 0.0, 0.2, 0.0, 0.0, 0.0, 0.1, 0.2, 0.4, 1.1, 0.2, 0.7, 0.6, 0.6, 0.4, 0.3, 0.1, 0.1],
  kc2: [0.0, 0.1, 0.3, 0.8, 0.3, 0.0, 0.0, -0.1, 0.0, 0.1, 0.3, 0.2, 0.0, 0.1, 0.0, -0.1, 0.0, 0.0, 0.1, 0.3, 0.8, 0.1, 0.4, 0.3, 0.3, 0.2, 0.1, 0.0, 0.0],
  dom1: [-0.2, -0.1, 0.2, 0.5, -0.3, -0.8, -1.0, -1.3, -1.5, -0.8, -0.5, -0.8, -1.0, 0.0, 0.3, -0.2, -0.8, -0.5, 0.0, 0.2, 0.6, -0.3, -0.5, -0.5, -0.8, -0.6, -0.5, -0.6, -0.3],
  dom2: [-1.3, -0.8, 0.0, 0.3, -0.5, -1.0, -1.3, -1.5, -1.6, -1.0, -0.6, -0.9, -1.0, 0.0, 0.9, -0.3, -0.7, -0.6, -0.2, 0.2, 0.5, -0.5, -0.8, -1.0, -1.7, -1.5, -1.7, -1.2, -0.8],
  rec1: [-0.7, -0.5, 0.2, 0.6, 0.0, -0.5, -0.8, -1.2, -1.5, -0.9, -0.5, -0.7, -0.9, 0.0, 0.2, -0.3, -0.6, -1.0, -0.6, 0.0, 0.6, -0.2, -0.8, -0.5, -0.4, -0.7, -0.6, -0.7, -0.9],
  rec2: [-1.0, -0.8, -0.2, 0.4, -0.2, -0.6, -1.0, -1.2, -1.3, -0.8, -0.5, -0.7, -0.8, 0.1, 0.5, -0.2, -0.5, -0.8, -0.5, 0.0, 0.5, -0.3, -0.9, -1.0, -1.3, -1.1, -1.0, -0.9, -0.8],
};

const chromosomes: any[] = [chr1, chr2, chr3, chr4, chr5, chr6, chr7, chr8, chr9, chr10, chr11, chr12,
  chr13, chr14, chr15, chr16, chr17, chr18, chr19, chr20, chr21, chr22, chr23];

// layout (pixels)
const COL0_LEFT = 43;
const COL_STEP = 175;
const ROW0_TOP = 21;
const ROW_STEP = 196.7;
const BOX_W = 110;
const BOX_H = 97;
const NCOL = 6;

function buildOption() {
  const yPad = 0.04 * (yTicks[yTicks.length - 1] - yTicks[0]);
  const yMin = yTicks[0] - yPad;
  const yMax = yTicks[yTicks.length - 1] + yPad;
  const grids: any[] = [];
  const xAxes: any[] = [];
  const yAxes: any[] = [];
  const series: any[] = [];
  const graphics: any[] = [];
  const axisNameStyle = { fontSize: 11, fontWeight: "bold", color: "#000", fontFamily: FONT };
  const tickLabelStyle = { fontSize: 10, fontWeight: "bold", color: "#000", fontFamily: FONT };

  chromosomes.forEach((c, i) => {
    const p = i + 1;
    const col = p % NCOL;
    const row = Math.floor(p / NCOL);
    const left = COL0_LEFT + col * COL_STEP;
    const top = Math.round(ROW0_TOP + row * ROW_STEP);
    grids.push({
      left, top, width: BOX_W, height: BOX_H,
      show: true, borderColor: "#000", borderWidth: 1, backgroundColor: "transparent",
      containLabel: false, outerBoundsMode: "none",
    });
    const a = c.pos[0];
    const b = c.pos[c.pos.length - 1];
    const xPad = 0.04 * (b - a);
    xAxes.push({
      type: "value", gridIndex: i, min: a - xPad, max: b + xPad,
      name: xAxisName, nameLocation: "middle", nameGap: 31,
      nameTextStyle: axisNameStyle,
      axisLine: { show: false, onZero: false },
      splitLine: { show: false },
      axisTick: { show: true, inside: false, length: 4, customValues: c.ticks, lineStyle: { color: "#000", width: 1 } },
      axisLabel: { customValues: c.labels, margin: 11, ...tickLabelStyle },
    });
    yAxes.push({
      type: "value", gridIndex: i, min: yMin, max: yMax,
      name: yAxisName, nameLocation: "middle", nameGap: 27, nameRotate: 90,
      nameTextStyle: axisNameStyle,
      axisLine: { show: false, onZero: false },
      splitLine: { show: false },
      axisTick: { show: true, inside: false, length: 3, customValues: yTicks, lineStyle: { color: "#000", width: 1 } },
      axisLabel: { customValues: yTicks, margin: 5, ...tickLabelStyle },
    });
    graphics.push({
      type: "text", x: left + BOX_W / 2, y: top - 8.5, silent: true,
      style: {
        text: c.name, fill: "#000", font: `16px ${FONT}`,
        align: "center", verticalAlign: "middle", textAlign: "center", textVerticalAlign: "middle",
      },
    });
    seriesKeys.forEach((k, s) => {
      const vals: number[] = c[k];
      series.push({
        type: "line", name: seriesNames[s], xAxisIndex: i, yAxisIndex: i,
        data: c.pos.map((x: number, j: number) => [x, vals[j]]).filter((d: any) => d[1] !== undefined),
        showSymbol: false, symbol: "none", silent: true, clip: true,
        lineStyle: { color: seriesColors[s], width: 1.4, type: seriesDotted[s] ? [2, 3] : "solid" },
        itemStyle: { color: seriesColors[s] },
        z: 2 + s,
      });
    });
  });

  graphics.push({
    type: "text", x: 43, y: 33.5, silent: true,
    style: {
      text: legendTitle, fill: "#000", font: `bold 11.5px ${FONT}`,
      verticalAlign: "middle", textVerticalAlign: "middle",
    },
  });

  return {
    animation: false,
    backgroundColor: "#ffffff",
    textStyle: { fontFamily: FONT },
    grid: grids,
    xAxis: xAxes,
    yAxis: yAxes,
    series,
    graphic: graphics,
    legend: {
      data: seriesNames, orient: "vertical", left: 10, top: 40.5, padding: 0,
      itemGap: 0, itemWidth: 22, itemHeight: 12, selectedMode: false,
      itemStyle: { color: "transparent", borderColor: "transparent", borderWidth: 0 },
      textStyle: { fontSize: 11.5, fontWeight: "bold", color: "#000", fontFamily: FONT, lineHeight: 12, padding: [0, 0, 0, 6] },
    },
    tooltip: { show: false },
  };
}

export default function App() {
  const ref = useRef<HTMLDivElement>(null);
  useEffect(() => {
    document.body.style.margin = "0";
    if (!ref.current) return;
    const chart = echarts.init(ref.current, undefined, { renderer: "svg" });
    chart.setOption(buildOption() as any);
    return () => chart.dispose();
  }, []);
  return <div ref={ref} style={{ width: 1050, height: 763 }} />;
}
